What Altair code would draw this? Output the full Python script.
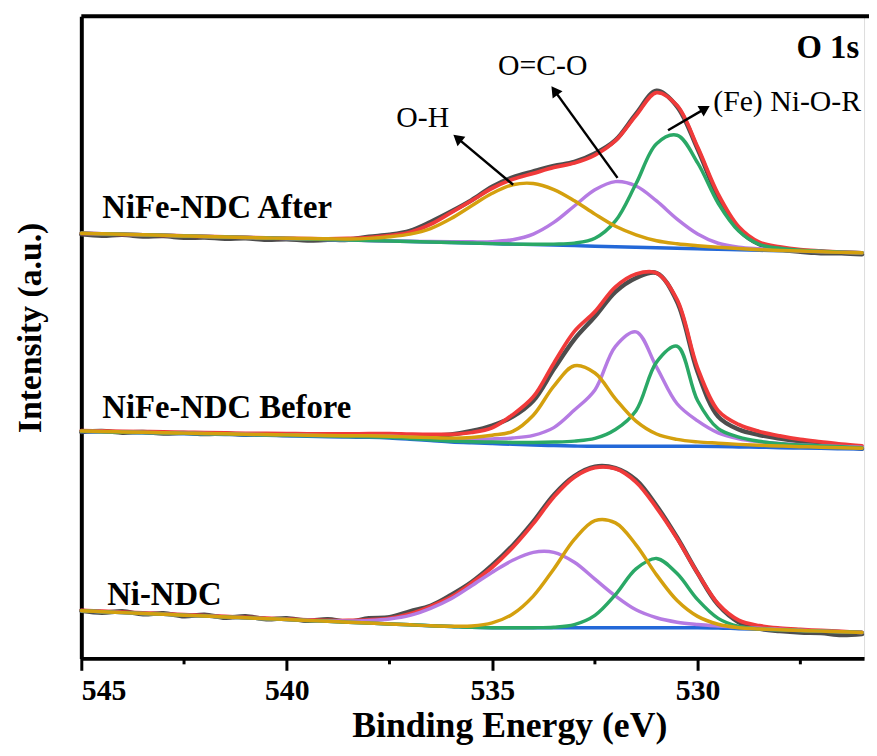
import math
import altair as alt
import pandas as pd

# ---------------- data ----------------
# Binding energy grid (eV)
energy = [545.0, 544.5, 544.0, 543.5, 543.0, 542.5, 542.0, 541.5, 541.0, 540.5,
          540.0, 539.5, 539.0, 538.5, 538.0, 537.5, 537.0, 536.5, 536.0, 535.5,
          535.0, 534.5, 534.0, 533.5, 533.0, 532.5, 532.0, 531.5, 531.0, 530.5,
          530.0, 529.5, 529.0, 528.5, 528.0, 527.5, 527.0, 526.5, 526.0]

# ---- NiFe-NDC After (top, offset intensities, a.u.) ----
after_bg = [429.0, 428.5, 428.0, 427.5, 427.0, 426.4, 425.9, 425.4, 424.9, 424.3,
            423.8, 423.3, 422.8, 422.3, 421.7, 421.2, 420.7, 420.2, 419.7, 419.2,
            418.6, 418.1, 417.6, 417.1, 416.6, 416.0, 415.5, 415.0, 414.5, 414.0,
            413.5, 412.9, 412.4, 411.9, 411.4, 410.9, 410.4, 409.8, 409.3]
after_oh = [0, 0, 0, 0, 0, 0, 0, 0, 0, 0,
            0.2, 0.4, 0.7, 1.0, 2.2, 4.3, 7.5, 13.6, 24.2, 37.6,
            50.8, 59.9, 61.7, 56.1, 45.3, 32.4, 20.6, 12.5, 7.0, 4.5,
            3.0, 2.0, 1.2, 0.6, 0.3, 0.2, 0.1, 0, 0]
after_oco = [0, 0, 0, 0, 0, 0, 0, 0, 0, 0,
             0, 0, 0, 0, 0, 0, 0.3, 0.5, 0.8, 1.2,
             2.0, 4.5, 10.7, 22.9, 40.0, 56.9, 65.7, 61.8, 47.2, 29.4,
             14.9, 6.1, 2.5, 1.5, 1.0, 0.5, 0.3, 0.2, 0.1]
after_nior = [0, 0, 0, 0, 0, 0, 0, 0, 0, 0,
              0, 0, 0, 0, 0, 0, 0, 0, 0, 0,
              0, 0, 0.3, 1.0, 2.5, 8.0, 26.0, 64.0, 105.0, 114.0,
              86.6, 46.5, 19.0, 6.0, 2.5, 1.0, 0.5, 0.2, 0]
after_env = [429.0, 428.5, 428.0, 427.5, 427.0, 426.4, 425.9, 425.4, 424.9, 424.3,
             424.0, 423.6, 423.4, 423.8, 424.7, 426.7, 430.0, 438.1, 449.9, 462.0,
             474.5, 483.5, 489.5, 495.5, 500.0, 508.0, 522.5, 548.0, 571.0, 558.0,
             516.0, 468.5, 435.5, 420.0, 415.3, 412.5, 411.2, 410.1, 409.3]
after_raw = [428.0, 426.5, 427.5, 425.8, 426.2, 424.5, 424.8, 423.6, 423.9, 422.5,
             423.0, 421.8, 422.4, 422.6, 425.5, 427.5, 431.5, 440.5, 451.0, 462.5,
             476.0, 485.5, 491.5, 497.0, 501.0, 509.5, 523.0, 549.5, 573.0, 557.0,
             514.0, 466.0, 433.0, 418.0, 413.0, 410.5, 409.0, 408.8, 407.8]

# ---- NiFe-NDC Before (middle) ----
before_bg = [229.0, 228.6, 228.1, 227.7, 227.3, 226.8, 226.4, 226.0, 225.5, 225.1,
             224.7, 224.3, 223.8, 223.4, 223.1, 222.4, 221.2, 219.8, 218.4, 217.5,
             216.8, 216.1, 215.4, 214.8, 214.3, 214.0, 214.0, 214.0, 214.0, 214.0,
             214.0, 213.8, 213.4, 213.1, 212.7, 212.3, 212.0, 211.6, 211.2]
before_oh = [0.4, 0.4, 0.45, 0.5, 0.5, 0.55, 0.6, 0.65, 0.7, 0.8,
             0.9, 1.0, 1.1, 1.3, 1.6, 1.9, 2.3, 3.0, 3.9, 5.5,
             8.5, 13.0, 30.0, 60.0, 81.0, 74.0, 48.0, 25.5, 12.5, 7.0,
             4.5, 3.4, 2.6, 2.0, 1.7, 1.4, 1.2, 1.0, 0.9]
before_oco = [0.3, 0.35, 0.4, 0.4, 0.45, 0.5, 0.55, 0.6, 0.65, 0.7,
              0.8, 0.9, 1.0, 1.2, 1.4, 1.7, 2.0, 2.3, 2.9, 3.6,
              4.7, 6.4, 9.7, 18.1, 36.3, 57.0, 101.0, 115.6, 80.0, 43.0,
              25.7, 13.8, 8.2, 5.6, 4.2, 3.3, 2.7, 2.2, 1.9]
before_nior = [0.2, 0.2, 0.2, 0.25, 0.25, 0.3, 0.3, 0.35, 0.35, 0.4,
               0.45, 0.5, 0.55, 0.6, 0.7, 0.75, 0.8, 0.9, 1.0, 1.2,
               1.5, 1.9, 2.5, 3.5, 5.0, 8.0, 17.0, 36.0, 85.0, 101.0,
               46.0, 18.0, 10.0, 6.0, 4.0, 3.0, 2.5, 2.0, 1.5]
before_env = [229.9, 229.6, 229.2, 228.9, 228.5, 228.2, 227.9, 227.6, 227.2, 227.0,
              226.9, 226.7, 226.5, 226.5, 226.8, 226.8, 226.3, 226.0, 226.2, 228.0,
              232.8, 246.0, 264.0, 298.0, 330.0, 350.0, 375.0, 388.0, 389.0, 362.0,
              293.0, 250.0, 236.0, 229.0, 224.5, 221.0, 218.6, 216.3, 214.5]
before_raw = [228.5, 229.5, 227.8, 228.5, 227.0, 227.6, 226.5, 226.9, 225.8, 226.2,
              225.4, 225.9, 224.8, 225.2, 224.5, 225.0, 224.2, 225.0, 226.0, 229.5,
              235.0, 244.0, 260.0, 292.0, 322.0, 345.0, 370.0, 384.0, 389.0, 360.0,
              289.0, 244.0, 231.0, 225.5, 222.0, 219.0, 216.5, 214.0, 211.5]

# ---- Ni-NDC (bottom) ----
ni_bg = [48.0, 47.1, 46.2, 45.4, 44.5, 43.6, 42.7, 41.8, 41.0, 40.1,
         39.2, 38.3, 37.4, 36.5, 35.7, 34.8, 33.9, 33.0, 32.2, 31.3,
         31.0, 31.0, 31.0, 31.0, 31.0, 31.0, 31.0, 31.0, 31.0, 31.0,
         31.0, 30.7, 30.0, 29.4, 28.8, 28.1, 27.5, 26.8, 26.2]
ni_oco = [0, 0, 0, 0, 0, 0, 0, 0, 0, 0,
          0, 0.2, 0.5, 1.2, 2.5, 5.0, 9.5, 17.5, 28.0, 42.0,
          56.0, 68.0, 76.0, 76.0, 66.0, 49.0, 32.0, 18.0, 10.0, 5.5,
          3.2, 2.0, 1.5, 1.0, 0.6, 0.4, 0.2, 0.1, 0]
ni_oh = [0, 0, 0, 0, 0, 0, 0, 0, 0, 0,
         0, 0, 0, 0, 0, 0, 0, 0, 0.3, 1.4,
         4.8, 13.8, 31.9, 59.3, 89.1, 108.1, 105.8, 83.6, 53.3, 27.4,
         11.4, 3.8, 1.0, 0.3, 0, 0, 0, 0, 0]
ni_nior = [0, 0, 0, 0, 0, 0, 0, 0, 0, 0,
           0, 0, 0, 0, 0, 0, 0, 0, 0, 0,
           0, 0, 0, 0.5, 3.1, 12.4, 33.3, 59.3, 69.9, 54.6,
           28.3, 9.7, 2.2, 0.4, 0, 0, 0, 0, 0]
ni_env = [48.5, 47.6, 46.7, 45.9, 45.0, 44.1, 43.2, 42.3, 41.5, 40.6,
          39.7, 38.9, 38.3, 38.3, 38.9, 40.5, 45.0, 52.5, 62.0, 76.0,
          92.0, 112.0, 136.0, 163.0, 183.0, 192.5, 191.5, 178.0, 152.0, 121.0,
          86.0, 55.0, 38.5, 33.0, 30.5, 29.2, 28.2, 27.2, 26.3]
ni_raw = [48.0, 46.0, 47.5, 44.5, 45.5, 42.5, 44.0, 41.0, 42.5, 39.5,
          40.5, 38.0, 39.5, 37.0, 40.5, 41.5, 47.5, 53.0, 64.0, 77.0,
          94.0, 114.0, 138.0, 165.0, 184.0, 193.5, 192.0, 180.0, 154.0, 122.0,
          86.0, 54.0, 36.5, 30.0, 27.5, 26.0, 25.5, 23.5, 24.5]

# Text labels
spec_names = ["NiFe-NDC After", "NiFe-NDC Before", "Ni-NDC"]
spec_label_E = [544.49, 544.49, 544.37]
spec_label_v = [444, 243, 54]

annot_text = ["O-H", "O=C-O", "(Fe) Ni-O-R"]
annot_E = [536.69, 533.77, 529.62]
annot_v = [536, 589, 552]
annot_align = ["center", "center", "left"]

# Arrows: tail -> tip
arrow_tail_E = [534.49, 531.95, 530.72]
arrow_tail_v = [478, 485, 533]
arrow_tip_E = [535.96, 533.57, 529.69]
arrow_tip_v = [529, 578, 558]

major_ticks = [545, 540, 535, 530]
minor_ticks = [542.5, 537.5, 532.5, 527.5]

# ---------------- layout ----------------
W, H = 790, 648
E_MIN, E_MAX = 525.95, 545.0
V_MIN, V_MAX = 0, 648
PXE = W / (E_MAX - E_MIN)
PXV = H / (V_MAX - V_MIN)
FONT = "Liberation Serif"

COL = {"raw": "#4d4d4d", "bg": "#2368d8", "env": "#f03a3a",
       "oco": "#b57be3", "nior": "#2aa866", "oh": "#d4a00e"}

rows = []
spectra = [
    ("after", after_bg, {"oh": after_oh, "oco": after_oco, "nior": after_nior}, after_env, after_raw),
    ("before", before_bg, {"oh": before_oh, "oco": before_oco, "nior": before_nior}, before_env, before_raw),
    ("ni", ni_bg, {"oh": ni_oh, "oco": ni_oco, "nior": ni_nior}, ni_env, ni_raw),
]
for name, bg, comps, env, raw in spectra:
    for i, e in enumerate(energy):
        rows.append({"E": e, "v": raw[i], "spec": name, "curve": "raw"})
        rows.append({"E": e, "v": bg[i], "spec": name, "curve": "bg"})
        rows.append({"E": e, "v": env[i], "spec": name, "curve": "env"})
        for key, arr in comps.items():
            rows.append({"E": e, "v": bg[i] + arr[i], "spec": name, "curve": key})
df = pd.DataFrame(rows)

xscale = alt.Scale(domain=[E_MIN, E_MAX], reverse=True, nice=False, zero=False)
yscale = alt.Scale(domain=[V_MIN, V_MAX], nice=False, zero=False)

x_axis = alt.Axis(values=major_ticks, format="d", title="Binding Energy (eV)",
                  labelFont=FONT, labelFontSize=30, labelFontWeight="bold", labelColor="black",
                  labelPadding=6, tickSize=12, tickWidth=3, tickColor="black",
                  domainWidth=4, domainColor="black", grid=False,
                  titleFont=FONT, titleFontSize=36, titleFontWeight="bold", titleColor="black",
                  titleX=432, titleY=79, titleBaseline="alphabetic")
y_axis = alt.Axis(title="Intensity (a.u.)", labels=False, ticks=False, grid=False,
                  domainWidth=4, domainColor="black",
                  titleFont=FONT, titleFontSize=34, titleFontWeight="bold", titleColor="black",
                  titlePadding=34, titleY=314)


def X(field):
    return alt.X(field, scale=xscale, axis=x_axis)


def Y(field):
    return alt.Y(field, scale=yscale, axis=y_axis)


def curve_layer(curve, width, interp):
    return alt.Chart(df).transform_filter(alt.datum.curve == curve).mark_line(
        color=COL[curve], strokeWidth=width, interpolate=interp,
        strokeCap="round", strokeJoin="round").encode(
        x=X("E:Q"), y=Y("v:Q"), detail="spec:N")


layers = [
    curve_layer("raw", 4.5, "catmull-rom"),
    curve_layer("bg", 3.5, "monotone"),
    curve_layer("env", 3.8, "catmull-rom"),
    curve_layer("oco", 3.5, "catmull-rom"),
    curve_layer("nior", 3.5, "catmull-rom"),
    curve_layer("oh", 3.5, "catmull-rom"),
]

# top frame line
top_line = alt.Chart(pd.DataFrame({"a": [0]})).mark_rule(color="black", strokeWidth=4).encode(
    x=alt.value(0), x2=alt.value(W + 5), y=alt.value(0))

# minor ticks
minor_df = pd.DataFrame({"E": minor_ticks})
minor = alt.Chart(minor_df).mark_rule(color="black", strokeWidth=3).encode(
    x=X("E:Q"), y=alt.value(H), y2=alt.value(H + 6))

# spectrum labels
lab_df = pd.DataFrame({"E": spec_label_E, "v": spec_label_v, "t": spec_names})
labels = alt.Chart(lab_df).mark_text(align="left", baseline="alphabetic", font=FONT,
                                     fontSize=33, fontWeight="bold", color="black").encode(
    x=X("E:Q"), y=Y("v:Q"), text="t:N")

o1s = alt.Chart(pd.DataFrame({"E": [526.07], "v": [606], "t": ["O 1s"]})).mark_text(
    align="right", baseline="alphabetic", font=FONT, fontSize=33, fontWeight="bold",
    color="black").encode(x=X("E:Q"), y=Y("v:Q"), text="t:N")

ann_layers = []
for t, e, v, al in zip(annot_text, annot_E, annot_v, annot_align):
    ann_layers.append(alt.Chart(pd.DataFrame({"E": [e], "v": [v], "t": [t]})).mark_text(
        align=al, baseline="alphabetic", font=FONT, fontSize=30, color="black").encode(
        x=X("E:Q"), y=Y("v:Q"), text="t:N"))

# arrows
HEAD = 150
r = math.sqrt(HEAD) / 2
arr_rows = []
for e1, v1, e2, v2 in zip(arrow_tail_E, arrow_tail_v, arrow_tip_E, arrow_tip_v):
    dx = -(e2 - e1) * PXE
    dy = -(v2 - v1) * PXV
    L = math.hypot(dx, dy)
    ux, uy = dx / L, dy / L
    ang = math.degrees(math.atan2(dx, -dy)) % 360
    cx, cy = ux * (L - r), uy * (L - r)  # head centre in px relative to tail
    eh = e1 - cx / PXE
    vh = v1 - cy / PXV
    arr_rows.append({"E": e1, "v": v1, "Eh": eh, "vh": vh, "ang": ang})
arr_df = pd.DataFrame(arr_rows)
arrow_lines = alt.Chart(arr_df).mark_rule(color="black", strokeWidth=2.5).encode(
    x=X("E:Q"), y=Y("v:Q"), x2="Eh:Q", y2="vh:Q")
arrow_heads = alt.Chart(arr_df).mark_point(shape="triangle-up", filled=True, size=HEAD,
                                           color="black", opacity=1, strokeWidth=0).encode(
    x=X("Eh:Q"), y=Y("vh:Q"), angle=alt.Angle("ang:Q", scale=None))

chart = alt.layer(*layers, top_line, minor, labels, o1s, *ann_layers, arrow_lines, arrow_heads).properties(
    width=W, height=H,
    autosize=alt.AutoSizeParams(type="none"),
    padding={"left": 74, "top": 5, "right": 5, "bottom": 85},
).configure_view(stroke=None).configure(background="white")

chart.save("out.html", embed_options={"renderer": "svg", "actions": False})
